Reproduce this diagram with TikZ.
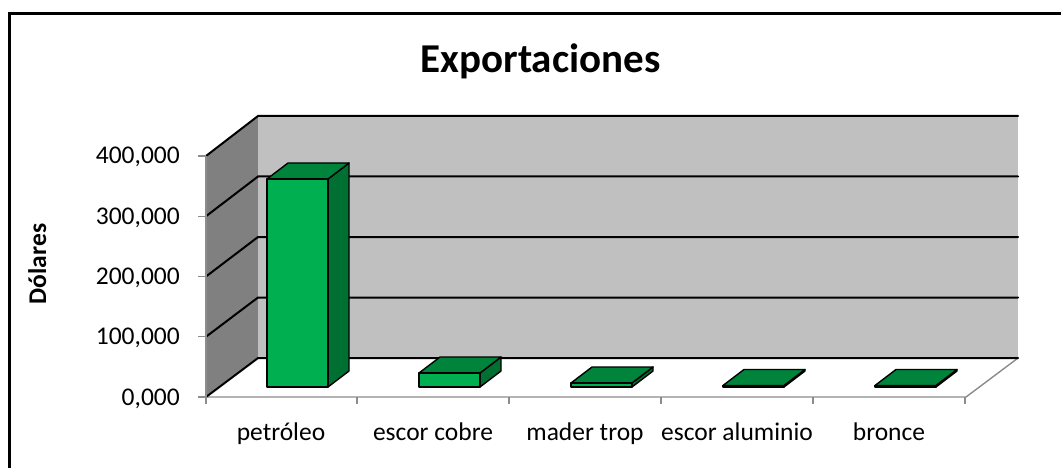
\documentclass[tikz,border=0pt]{standalone}
\usepackage{fontspec}
\setmainfont{Carlito}
\definecolor{barfront}{HTML}{00B050}
\definecolor{bartop}{HTML}{00843C}
\definecolor{barside}{HTML}{006F32}
\definecolor{backwall}{HTML}{C0C0C0}
\definecolor{sidewall}{HTML}{808080}
\definecolor{axisgray}{HTML}{8C8C8C}
\tikzset{
  grid line/.style={black, line width=2pt, line cap=round},
  axis line/.style={axisgray, line width=1.4pt},
  bar face/.style={draw=black, line width=1.4pt, line join=round},
  ticklabel/.style={font=\fontsize{25.5}{28}\selectfont, inner sep=0pt},
  catlabel/.style={font=\fontsize{25.5}{28}\selectfont, inner sep=0pt, anchor=base},
}
\begin{document}
\begin{tikzpicture}[x=1pt,y=-1pt]
\useasboundingbox (0,0) rectangle (1061,468);
% frame
\draw[black, line width=3.5pt] (9.5,470) -- (9.5,13.3) -- (1065,13.3);
% title
\node[font=\bfseries\fontsize{41}{44}\selectfont, anchor=base, inner sep=0pt] (title) at (540.5,72.5) {Exportaciones};
% walls
\fill[sidewall] (206,397) -- (258,358) -- (258,116) -- (206,156) -- cycle;
\fill[backwall] (258,116) rectangle (1018,358);
% floor
\fill[white] (206,397) -- (258,358) -- (1018,358) -- (966,397) -- cycle;
\draw[axis line] (206,397) -- (966,397) -- (1018,358);
% gridlines
\foreach \k in {0,...,4}{
  \pgfmathsetmacro{\yb}{358-60.5*\k}
  \pgfmathsetmacro{\yf}{397-60.25*\k}
  \draw[grid line] (206,\yf) -- (258,\yb) -- (1018,\yb);
}
% y axis
\draw[axis line] (206,156) -- (206,404);
\foreach \k/\lab in {0/{0,000},1/{100,000},2/{200,000},3/{300,000},4/{400,000}}{
  \pgfmathsetmacro{\yf}{397-60.25*\k}
  \draw[axis line] (198,\yf) -- (206,\yf);
  \node[ticklabel, anchor=base east] (yl\k) at (180,\yf+8) {\lab};
}
% category ticks
\foreach \i in {1,...,5}{
  \draw[axis line] (205+152*\i,397) -- (205+152*\i,404);
}
% axis title
\node[font=\bfseries\fontsize{25.5}{28}\selectfont, rotate=90, anchor=base, inner sep=0pt] (ytitle) at (46,264) {Dólares};
% bars
\foreach \i/\h in {0/208,1/14,2/4,3/1.5,4/1.5}{
  \pgfmathsetmacro{\fl}{267+152*\i}
  \pgfmathsetmacro{\fr}{\fl+61}
  \pgfmathsetmacro{\yt}{387-\h}
  \filldraw[bar face, fill=barside] (\fr,\yt) -- (\fr+21,\yt-16) -- (\fr+21,371) -- (\fr,387) -- cycle;
  \filldraw[bar face, fill=bartop] (\fl,\yt) -- (\fr,\yt) -- (\fr+21,\yt-16) -- (\fl+21,\yt-16) -- cycle;
  \filldraw[bar face, fill=barfront] (\fl,\yt) rectangle (\fr,387);
}
% category labels
\node[catlabel] (c1) at (281,440.5) {petróleo};
\node[catlabel] (c2) at (433,440.5) {escor cobre};
\node[catlabel] (c3) at (585,440.5) {mader trop};
\node[catlabel] (c4) at (737,440.5) {escor aluminio};
\node[catlabel] (c5) at (889,440.5) {bronce};
\end{tikzpicture}
\end{document}
